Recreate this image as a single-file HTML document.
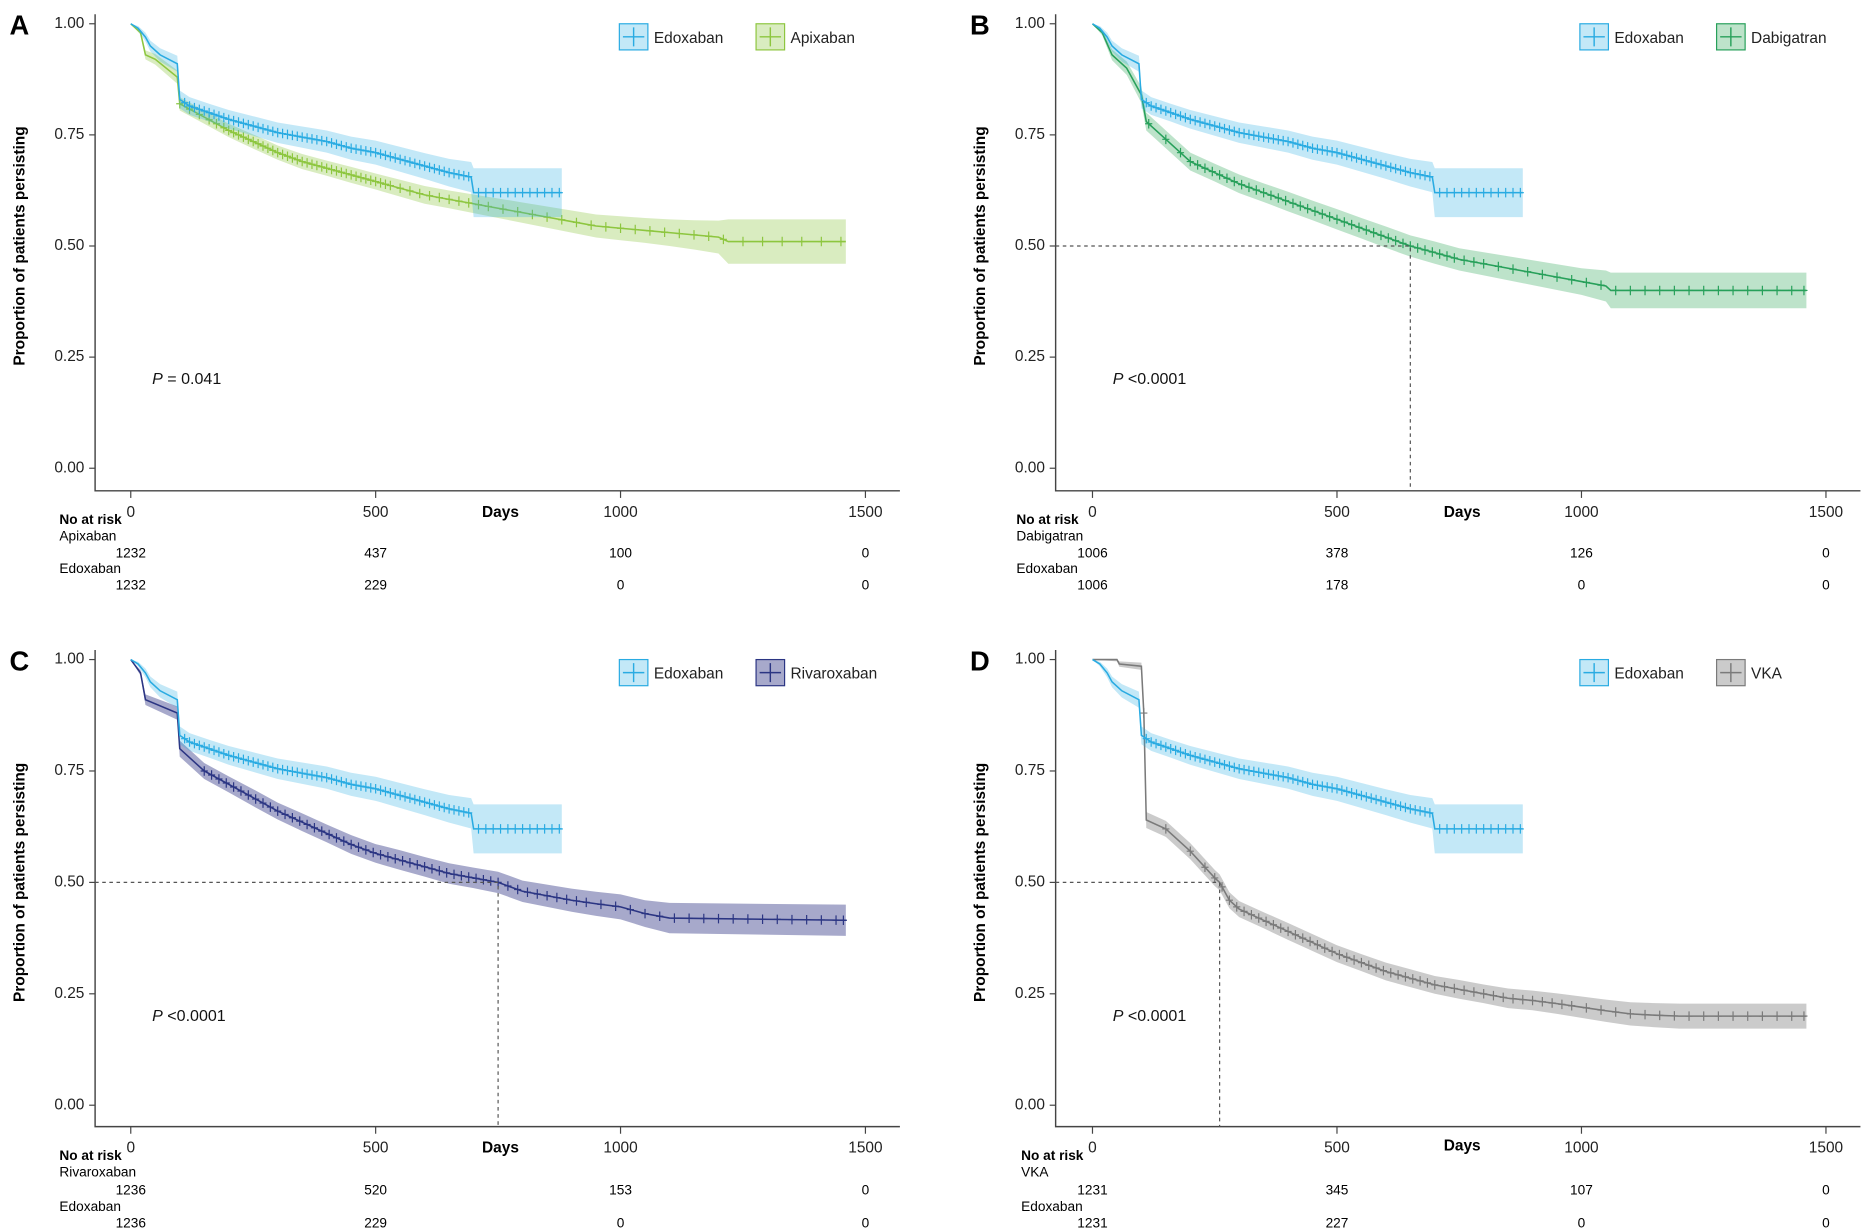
<!DOCTYPE html>
<html><head><meta charset="utf-8">
<style>
html,body{margin:0;padding:0;background:#fff;}
svg{display:block;font-family:"Liberation Sans",Arial,sans-serif;}
</style></head>
<body>
<svg id="chart" width="1864" height="1230" viewBox="0 0 1568 1035" preserveAspectRatio="none" xmlns="http://www.w3.org/2000/svg">
<rect x="0" y="0" width="1568" height="1035" fill="#fff"/>
</svg>
<script>
// ---- data (days, survival) ----
const edoxDays = [0,15,30,40,60,95,100,120,160,200,250,300,350,400,450,500,550,600,650,695,700,880];
const edoxSurv = [1.0,0.99,0.97,0.95,0.93,0.91,0.83,0.815,0.80,0.785,0.77,0.755,0.745,0.735,0.72,0.71,0.695,0.68,0.665,0.655,0.62,0.62];
const edoxHalf = [0,0.005,0.01,0.012,0.015,0.018,0.02,0.02,0.02,0.021,0.022,0.023,0.024,0.025,0.026,0.027,0.028,0.029,0.031,0.034,0.055,0.055];
const edoxCens = [110,120,130,140,150,160,170,180,190,200,210,220,230,240,250,260,270,280,290,300,310,320,330,340,350,360,370,380,390,400,410,420,430,440,450,460,470,480,490,500,510,520,530,540,550,560,570,580,590,600,610,620,630,640,650,660,670,680,690,710,725,740,755,770,785,800,815,830,845,860,875];
const apixDays = [0,20,30,50,95,100,150,200,250,300,350,400,450,500,550,600,650,700,750,800,850,900,950,1000,1050,1100,1150,1200,1220,1460];
const apixSurv = [1.0,0.98,0.93,0.92,0.88,0.82,0.79,0.76,0.735,0.71,0.69,0.675,0.66,0.645,0.63,0.615,0.605,0.595,0.585,0.575,0.565,0.555,0.545,0.54,0.535,0.53,0.525,0.52,0.51,0.51];
const apixHalf = [0,0.005,0.01,0.012,0.015,0.015,0.015,0.015,0.016,0.016,0.017,0.017,0.018,0.018,0.019,0.02,0.02,0.021,0.022,0.023,0.024,0.025,0.026,0.027,0.028,0.03,0.033,0.037,0.05,0.05];
const apixCens = [100,120,140,160,175,190,200,210,220,230,240,250,260,270,280,290,300,310,320,330,340,350,360,370,380,390,400,410,420,430,440,450,460,470,480,490,500,510,520,530,550,570,590,610,630,650,670,690,710,730,760,790,820,850,880,910,940,970,1000,1030,1060,1090,1120,1150,1180,1210,1250,1290,1330,1370,1410,1450];
const dabiDays = [0,20,40,70,100,110,150,200,250,300,350,400,450,500,550,600,650,700,750,800,850,900,950,1000,1050,1060,1460];
const dabiSurv = [1.0,0.98,0.93,0.90,0.84,0.78,0.74,0.69,0.665,0.64,0.62,0.60,0.58,0.56,0.54,0.52,0.50,0.485,0.47,0.46,0.45,0.44,0.43,0.42,0.41,0.40,0.40];
const dabiHalf = [0,0.006,0.012,0.015,0.018,0.02,0.02,0.02,0.02,0.021,0.021,0.022,0.022,0.023,0.023,0.024,0.024,0.025,0.025,0.026,0.027,0.028,0.029,0.03,0.035,0.04,0.04];
const dabiCens = [115,150,180,200,215,230,245,260,275,290,305,320,335,350,365,380,395,410,425,440,455,470,485,500,515,530,545,560,575,590,605,620,635,650,665,680,695,710,725,740,760,780,800,830,860,890,920,950,980,1010,1040,1070,1100,1130,1160,1190,1220,1250,1280,1310,1340,1370,1400,1430,1455];
const rivaDays = [0,20,30,95,100,150,200,250,300,350,400,450,500,550,600,650,700,750,800,850,900,950,1000,1050,1100,1460];
const rivaSurv = [1.0,0.97,0.91,0.88,0.80,0.75,0.72,0.69,0.66,0.635,0.61,0.585,0.565,0.55,0.535,0.52,0.51,0.50,0.48,0.47,0.46,0.452,0.445,0.43,0.42,0.415];
const rivaHalf = [0,0.006,0.012,0.015,0.018,0.018,0.018,0.019,0.019,0.02,0.02,0.021,0.021,0.022,0.022,0.023,0.023,0.024,0.024,0.025,0.026,0.027,0.028,0.03,0.034,0.035];
const rivaCens = [150,165,180,195,210,225,240,255,270,285,300,315,330,345,360,375,390,405,420,435,450,465,480,495,510,525,540,555,570,585,600,615,630,645,660,675,690,705,720,735,750,770,790,810,830,850,870,890,910,930,960,990,1020,1050,1080,1110,1140,1170,1200,1230,1260,1290,1320,1350,1380,1410,1440,1455];
const vkaDays = [0,50,55,100,105,110,150,200,250,260,280,300,350,400,450,500,550,600,650,700,750,800,850,900,950,1000,1050,1100,1150,1200,1460];
const vkaSurv = [1.0,1.0,0.99,0.985,0.88,0.64,0.62,0.57,0.51,0.50,0.46,0.44,0.415,0.39,0.365,0.34,0.32,0.30,0.285,0.27,0.26,0.25,0.24,0.235,0.228,0.22,0.212,0.205,0.202,0.20,0.20];
const vkaHalf = [0,0.004,0.006,0.008,0.015,0.018,0.018,0.018,0.018,0.018,0.018,0.018,0.018,0.019,0.019,0.019,0.019,0.02,0.02,0.02,0.021,0.021,0.022,0.022,0.023,0.024,0.025,0.026,0.027,0.028,0.028];
const vkaCens = [105,150,200,230,250,265,280,295,310,325,340,355,370,385,400,415,430,445,460,475,490,505,520,535,550,565,580,595,610,625,640,655,670,685,700,720,740,760,780,800,820,840,860,880,900,920,940,960,980,1010,1040,1070,1100,1130,1160,1190,1220,1250,1280,1310,1340,1370,1400,1430,1455];
const xTicks = [0,500,1000,1500];
const yTicks = [0,0.25,0.5,0.75,1.0];
const yTickLabels = ["0.00","0.25","0.50","0.75","1.00"];
const riskA1 = [1232,437,100,0], riskA2 = [1232,229,0,0];
const riskB1 = [1006,378,126,0], riskB2 = [1006,178,0,0];
const riskC1 = [1236,520,153,0], riskC2 = [1236,229,0,0];
const riskD1 = [1231,345,107,0], riskD2 = [1231,227,0,0];

const svg = document.getElementById('chart');
const NS = 'http://www.w3.org/2000/svg';
function mk(tag, attrs, parent){ const e=document.createElementNS(NS,tag); for(const k in attrs) e.setAttribute(k,attrs[k]); (parent||svg).appendChild(e); return e; }
function txt(s, attrs, parent){ const e=mk('text',attrs,parent); e.textContent=s; return e; }
function survAt(days,surv,t){
  if(t<=days[0]) return surv[0];
  for(let i=1;i<days.length;i++){
    if(t<=days[i]){ const f=(t-days[i-1])/((days[i]-days[i-1])||1); return surv[i-1]+(surv[i]-surv[i-1])*f; }
  }
  return surv[surv.length-1];
}

const EDOX = {name:'Edoxaban', days:edoxDays, surv:edoxSurv, half:edoxHalf, cens:edoxCens, line:'#29abe2', band:'rgba(41,171,226,0.28)'};
const panels = [
 {id:'a', letter:'A', left:80, right:757, x0:110, x1500:728, y0:394, y1:20, bottom:413, top:12, other:{name:'Apixaban',days:apixDays,surv:apixSurv,half:apixHalf,cens:apixCens,line:'#8dc63f',band:'rgba(141,198,63,0.33)'}, p:'= 0.041', median:false, risk1:riskA1, risk2:riskA2, lg:[521,636], daysLbl:[421,435], riskLblX:50, riskY:[437,451,465,478,492]},
 {id:'b', letter:'B', left:888, right:1565, x0:919, x1500:1536, y0:394, y1:20, bottom:413, top:12, other:{name:'Dabigatran',days:dabiDays,surv:dabiSurv,half:dabiHalf,cens:dabiCens,line:'#27a05a',band:'rgba(55,170,95,0.33)'}, p:'<0.0001', median:true, risk1:riskB1, risk2:riskB2, lg:[1329,1444], daysLbl:[1230,435], riskLblX:855, riskY:[437,451,465,478,492]},
 {id:'c', letter:'C', left:80, right:757, x0:110, x1500:728, y0:930, y1:555, bottom:948, top:547, other:{name:'Rivaroxaban',days:rivaDays,surv:rivaSurv,half:rivaHalf,cens:rivaCens,line:'#2b3583',band:'rgba(60,64,140,0.45)'}, p:'<0.0001', median:true, risk1:riskC1, risk2:riskC2, lg:[521,636], daysLbl:[421,970], riskLblX:50, riskY:[972,986,1001,1015,1029]},
 {id:'d', letter:'D', left:888, right:1565, x0:919, x1500:1536, y0:930, y1:555, bottom:948, top:547, other:{name:'VKA',days:vkaDays,surv:vkaSurv,half:vkaHalf,cens:vkaCens,line:'#7a7a7a',band:'rgba(140,140,140,0.45)'}, p:'<0.0001', median:true, risk1:riskD1, risk2:riskD2, lg:[1329,1444], daysLbl:[1230,968], riskLblX:859, riskY:[972,986,1001,1015,1029]}
];

panels.forEach(P=>{
  const g = mk('g',{});
  
  
  const X = d => P.x0 + (P.x1500-P.x0)*d/1500;
  const Y = v => P.y0 - (P.y0-P.y1)*v;
  const L = txt(P.letter,{x:P.left-72,y:P.y1+9,'font-size':23,'font-weight':'bold',fill:'#000'},g);
  
  
  const yc=(P.y0+P.y1)/2, yx=P.left-63;
  const yl = txt('Proportion of patients persisting',{x:yx,y:yc,'font-size':13,'font-weight':'bold','text-anchor':'middle',transform:`rotate(-90 ${yx} ${yc})`,'dominant-baseline':'middle'},g);
  
  
  const ax = mk('path',{d:`M${P.left},${P.top} V${P.bottom} H${P.right}`,stroke:'#444',fill:'none','stroke-width':1.2},g);
  
  
  yTicks.forEach((t,i)=>{
    mk('line',{x1:P.left-5,x2:P.left,y1:Y(t),y2:Y(t),stroke:'#444'},g);
    const tl = txt(yTickLabels[i],{x:P.left-9,y:Y(t),'font-size':13,'text-anchor':'end','dominant-baseline':'middle',fill:'#222'},g);
    
    
  });
  xTicks.forEach(t=>{
    mk('line',{x1:X(t),x2:X(t),y1:P.bottom,y2:P.bottom+6,stroke:'#444'},g);
    const tl = txt(String(t),{x:X(t),y:P.bottom+22,'font-size':13,'text-anchor':'middle',fill:'#222'},g);
    
    
  });
  const dl = txt('Days',{x:P.daysLbl[0],y:P.daysLbl[1],'font-size':13,'font-weight':'bold','text-anchor':'middle'},g);
  
  
  [P.other, EDOX].forEach(S=>{
    const n=S.days.length;
    let up='', lo='';
    for(let i=0;i<n;i++) up += (i===0?'M':'L')+X(S.days[i])+','+Y(Math.min(1,S.surv[i]+S.half[i]))+' ';
    for(let i=n-1;i>=0;i--) lo += 'L'+X(S.days[i])+','+Y(S.surv[i]-S.half[i])+' ';
    const band = mk('path',{d:up+lo+'Z',fill:S.band,stroke:'none'},g);
    
    
    let d='';
    for(let i=0;i<n;i++) d+=(i===0?'M':'L')+X(S.days[i])+','+Y(S.surv[i])+' ';
    const line = mk('path',{d:d,fill:'none',stroke:S.line,'stroke-width':1.3},g);
    
    
    let cd='';
    S.cens.forEach(t=>{ const cx=X(t), cy=Y(survAt(S.days,S.surv,t)); cd+=`M${cx},${cy-4} V${cy+4} M${cx-3},${cy} H${cx+3} `; });
    const cm = mk('path',{d:cd,stroke:S.line,'stroke-width':1,fill:'none'},g);
    
    
  });
  if(P.median){
    const S=P.other; let md=null;
    for(let i=1;i<S.days.length;i++){ if(S.surv[i]<=0.5){ const f=(S.surv[i-1]-0.5)/((S.surv[i-1]-S.surv[i])||1); md=S.days[i-1]+(S.days[i]-S.days[i-1])*f; break; } }
    if(md!==null){
      const dm = mk('path',{d:`M${P.left},${Y(0.5)} H${X(md)} V${P.bottom}`,stroke:'#555','stroke-dasharray':'3,3',fill:'none','stroke-width':1},g);
      
      
    }
  }
  const pt = mk('text',{x:P.left+48,y:Y(0.2)+4,'font-size':13.5,fill:'#111'},g);
  
  
  const ts=document.createElementNS(NS,'tspan'); ts.setAttribute('font-style','italic'); ts.textContent='P'; pt.appendChild(ts);
  pt.appendChild(document.createTextNode(' '+P.p));
  [EDOX,P.other].forEach((S,k)=>{
    const lx=P.lg[k], ly=P.y1;
    const lg = mk('g',{},g);
    
    
    mk('rect',{x:lx,y:ly,width:24,height:22,fill:S.band,stroke:S.line,'stroke-width':1},lg);
    mk('path',{d:`M${lx+12},${ly+3} V${ly+19} M${lx+3},${ly+11} H${lx+21}`,stroke:S.line,'stroke-width':1.2},lg);
    txt(S.name,{x:lx+29,y:ly+16,'font-size':13,fill:'#222'},lg);
  });
  const rt = mk('g',{},g);
  
  
  txt('No at risk',{x:P.riskLblX,y:P.riskY[0]+4,'font-size':11.5,'font-weight':'bold'},rt);
  txt(P.other.name,{x:P.riskLblX,y:P.riskY[1]+4,'font-size':11.5},rt);
  txt('Edoxaban',{x:P.riskLblX,y:P.riskY[3]+4,'font-size':11.5},rt);
  xTicks.forEach((t,i)=>{
    txt(String(P.risk1[i]),{x:X(t),y:P.riskY[2]+4,'font-size':11.5,'text-anchor':'middle'},rt);
    txt(String(P.risk2[i]),{x:X(t),y:P.riskY[4]+4,'font-size':11.5,'text-anchor':'middle'},rt);
  });
});
</script>
</body></html>
